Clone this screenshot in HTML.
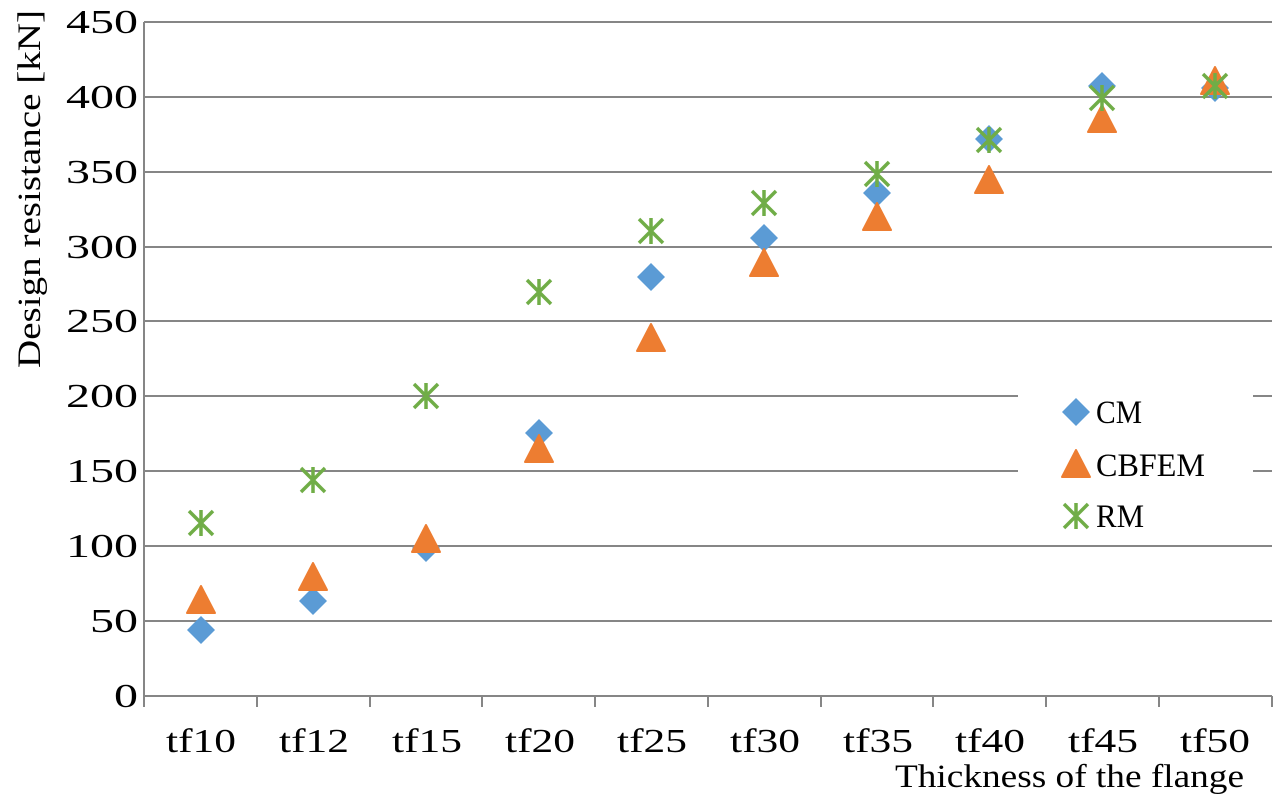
<!DOCTYPE html>
<html><head><meta charset="utf-8"><style>
body{margin:0;background:#fff}
svg text{font-family:"Liberation Serif",serif;fill:#000}
</style></head><body>
<svg width="1286" height="800" viewBox="0 0 1286 800" xmlns="http://www.w3.org/2000/svg">
<defs>
<path id="d" d="M0,-14 L14,0 L0,14 L-14,0 Z" fill="#5b9bd5"/>
<path id="t" d="M0,-15 L14,12 L-14,12 Z" fill="#ed7d31" stroke="#ed7d31" stroke-width="2" stroke-linejoin="round"/>
<g id="s" stroke="#70ad47" stroke-width="3.5" fill="none"><path d="M-12,-12 L12,12 M-12,12 L12,-12 M0,-13 L0,13"/></g>
</defs>
<g stroke="#868686" stroke-width="2">
<line x1="144" x2="1272" y1="22" y2="22"/>
<line x1="144" x2="1272" y1="97" y2="97"/>
<line x1="144" x2="1272" y1="172" y2="172"/>
<line x1="144" x2="1272" y1="247" y2="247"/>
<line x1="144" x2="1272" y1="321" y2="321"/>
<line x1="144" x2="1272" y1="396" y2="396"/>
<line x1="144" x2="1272" y1="471" y2="471"/>
<line x1="144" x2="1272" y1="546" y2="546"/>
<line x1="144" x2="1272" y1="621" y2="621"/>
<line x1="144" x2="1272" y1="696" y2="696"/>
<line x1="144" x2="144" y1="22" y2="707"/>
<line x1="257" x2="257" y1="696" y2="707"/>
<line x1="370" x2="370" y1="696" y2="707"/>
<line x1="482" x2="482" y1="696" y2="707"/>
<line x1="595" x2="595" y1="696" y2="707"/>
<line x1="708" x2="708" y1="696" y2="707"/>
<line x1="821" x2="821" y1="696" y2="707"/>
<line x1="933" x2="933" y1="696" y2="707"/>
<line x1="1046" x2="1046" y1="696" y2="707"/>
<line x1="1159" x2="1159" y1="696" y2="707"/>
<line x1="1272" x2="1272" y1="696" y2="707"/>
</g>
<rect x="1018" y="384" width="235" height="157" fill="#fff"/>
<g font-size="34">
<text x="66" y="33" textLength="72" lengthAdjust="spacingAndGlyphs">450</text><text x="66" y="108" textLength="72" lengthAdjust="spacingAndGlyphs">400</text><text x="66" y="183" textLength="72" lengthAdjust="spacingAndGlyphs">350</text>
<text x="66" y="258" textLength="72" lengthAdjust="spacingAndGlyphs">300</text><text x="66" y="332" textLength="72" lengthAdjust="spacingAndGlyphs">250</text><text x="66" y="407" textLength="72" lengthAdjust="spacingAndGlyphs">200</text>
<text x="66" y="482" textLength="72" lengthAdjust="spacingAndGlyphs">150</text><text x="66" y="557" textLength="72" lengthAdjust="spacingAndGlyphs">100</text><text x="90" y="632" textLength="48" lengthAdjust="spacingAndGlyphs">50</text>
<text x="114" y="707" textLength="24" lengthAdjust="spacingAndGlyphs">0</text>
</g>
<g font-size="34">
<text x="166" y="752" textLength="70" lengthAdjust="spacingAndGlyphs">tf10</text><text x="279" y="752" textLength="70" lengthAdjust="spacingAndGlyphs">tf12</text><text x="392" y="752" textLength="70" lengthAdjust="spacingAndGlyphs">tf15</text>
<text x="505" y="752" textLength="70" lengthAdjust="spacingAndGlyphs">tf20</text><text x="617" y="752" textLength="70" lengthAdjust="spacingAndGlyphs">tf25</text><text x="730" y="752" textLength="70" lengthAdjust="spacingAndGlyphs">tf30</text>
<text x="843" y="752" textLength="70" lengthAdjust="spacingAndGlyphs">tf35</text><text x="955" y="752" textLength="70" lengthAdjust="spacingAndGlyphs">tf40</text><text x="1068" y="752" textLength="70" lengthAdjust="spacingAndGlyphs">tf45</text>
<text x="1180" y="752" textLength="70" lengthAdjust="spacingAndGlyphs">tf50</text>
</g>
<text x="895" y="787" font-size="33" textLength="349" lengthAdjust="spacingAndGlyphs">Thickness of the flange</text>
<text transform="translate(40,368) rotate(-90)" font-size="33" textLength="358" lengthAdjust="spacingAndGlyphs">Design resistance [kN]</text>
<use href="#d" x="201" y="630"/><use href="#d" x="313" y="601"/><use href="#d" x="426" y="548"/>
<use href="#d" x="539" y="433"/><use href="#d" x="651" y="277"/><use href="#d" x="764" y="238"/>
<use href="#d" x="877" y="193"/><use href="#d" x="989" y="139"/><use href="#d" x="1102" y="86"/>
<use href="#d" x="1215" y="88"/>
<use href="#t" x="201" y="601"/><use href="#t" x="313" y="578"/><use href="#t" x="426" y="540"/>
<use href="#t" x="539" y="450"/><use href="#t" x="651" y="339"/><use href="#t" x="764" y="264"/>
<use href="#t" x="877" y="218"/><use href="#t" x="989" y="181"/><use href="#t" x="1102" y="120"/>
<use href="#t" x="1215" y="82"/>
<use href="#s" x="201" y="523"/><use href="#s" x="313" y="480"/><use href="#s" x="426" y="396"/>
<use href="#s" x="539" y="292"/><use href="#s" x="651" y="231"/><use href="#s" x="764" y="203"/>
<use href="#s" x="877" y="174"/><use href="#s" x="989" y="140"/><use href="#s" x="1102" y="98"/>
<use href="#s" x="1215" y="86"/>
<use href="#d" x="1076" y="412"/><use href="#t" x="1076" y="465"/><use href="#s" x="1076" y="516"/>
<g font-size="33"><text x="1096" y="423" textLength="46" lengthAdjust="spacingAndGlyphs">CM</text><text x="1096" y="476" textLength="109" lengthAdjust="spacingAndGlyphs">CBFEM</text><text x="1096" y="527" textLength="48" lengthAdjust="spacingAndGlyphs">RM</text></g>
</svg>
</body></html>
